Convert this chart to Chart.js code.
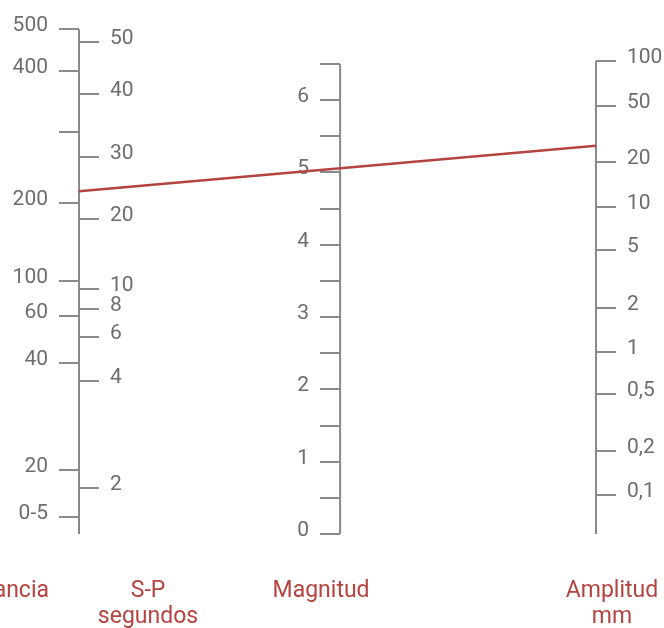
<!DOCTYPE html>
<html>
<head>
<meta charset="utf-8">
<script src="https://cdn.jsdelivr.net/npm/chart.js@4.4.1/dist/chart.umd.min.js"></script>
<style>
  body { margin: 0; background: #fff; }
  #wrap { width: 664px; height: 628px; }
</style>
</head>
<body>
<div id="wrap"><canvas id="nomograma" width="664" height="628"></canvas></div>
<script>
// columnas del nomograma (0 = distancia / S-P, 1 = amplitud)
var colDist = 0;
var colMag = 0.505;
var colAmp = 1;

// distancia (km) - posicion en unidades de magnitud
var distLabels = ['500', '400', '', '200', '100', '60', '40', '20', '0-5'];
var distPos    = [6.98, 6.41, 5.56, 4.58, 3.50, 3.02, 2.36, 0.88, 0.24];

// S-P (segundos)
var spLabels = ['50', '40', '30', '20', '10', '8', '6', '4', '2'];
var spPos    = [6.80, 6.09, 5.21, 4.35, 3.39, 3.11, 2.73, 2.11, 0.64];

// magnitud
var magPos    = [0, 0.5, 1, 1.5, 2, 2.5, 3, 3.5, 4, 4.5, 5, 5.5, 6, 6.5];
var magLabels = ['0', '', '1', '', '2', '', '3', '', '4', '', '5', '', '6', ''];

// amplitud (mm)
var ampLabels = ['100', '50', '20', '10', '5', '2', '1', '0,5', '0,2', '0,1'];
var ampPos    = [6.54, 5.92, 5.14, 4.52, 3.93, 3.13, 2.52, 1.93, 1.15, 0.54];

// ejemplo: recta que une distancia y amplitud
var ejemploX = [colDist, colAmp];
var ejemploY = [4.74, 5.37];

var titulos = [
  { lines: ['Distancia'], col: colDist, dx: -30, align: 'right' },
  { lines: ['S-P', 'segundos'], col: colDist, dx: 69, align: 'center' },
  { lines: ['Magnitud'], col: colMag, dx: -19, align: 'center' },
  { lines: ['Amplitud', 'mm'], col: colAmp, dx: 16, align: 'center' }
];

var gris = '#8a8a8a';
var grisTexto = '#6d6d6d';
var rojo = '#b5433f';

var ejeData = function(col, top) {
  return [{ x: col, y: top }, { x: col, y: 0 }];
};

var lineaEje = function(data) {
  return {
    data: data,
    borderColor: gris,
    borderWidth: 2,
    pointRadius: 0,
    clip: false,
    order: 2
  };
};

var escalas = {
  id: 'escalas',
  beforeDatasetsDraw: function(chart) {
    var ctx = chart.ctx;
    var xs = chart.scales.x;
    var ys = chart.scales.y;

    var dibujar = function(col, pos, labels, side) {
      var x0 = Math.round(xs.getPixelForValue(col));
      ctx.save();
      ctx.strokeStyle = gris;
      ctx.lineWidth = 2;
      ctx.fillStyle = grisTexto;
      ctx.font = '21px Roboto';
      ctx.textBaseline = 'alphabetic';
      ctx.textAlign = side < 0 ? 'right' : 'left';
      for (var i = 0; i < pos.length; i++) {
        var y = Math.round(ys.getPixelForValue(pos[i]));
        ctx.beginPath();
        ctx.moveTo(x0, y);
        ctx.lineTo(x0 + side * 20, y);
        ctx.stroke();
        if (labels[i]) {
          ctx.fillText(labels[i], x0 + side * 31, y + 2);
        }
      }
      ctx.restore();
    };

    dibujar(colDist, distPos, distLabels, -1);
    dibujar(colDist, spPos, spLabels, 1);
    dibujar(colMag, magPos, magLabels, -1);
    dibujar(colAmp, ampPos, ampLabels, 1);

    ctx.save();
    ctx.fillStyle = rojo;
    ctx.font = '23px Roboto';
    ctx.textBaseline = 'alphabetic';
    titulos.forEach(function(t) {
      var x = xs.getPixelForValue(t.col) + t.dx;
      ctx.textAlign = t.align;
      t.lines.forEach(function(txt, k) {
        ctx.fillText(txt, x, 597 + k * 26);
      });
    });
    ctx.restore();
  }
};

new Chart(document.getElementById('nomograma').getContext('2d'), {
  type: 'line',
  data: {
    datasets: [
      lineaEje(ejeData(colDist, distPos[0])),
      lineaEje(ejeData(colMag, magPos[magPos.length - 1])),
      lineaEje(ejeData(colAmp, ampPos[0])),
      {
        data: ejemploX.map(function(x, i) { return { x: x, y: ejemploY[i] }; }),
        borderColor: rojo,
        borderWidth: 2.5,
        pointRadius: 0,
        clip: false,
        order: 1
      }
    ]
  },
  options: {
    responsive: false,
    animation: false,
    layout: { padding: { left: 79, right: 68, top: 64, bottom: 94 } },
    scales: {
      x: { type: 'linear', min: 0, max: 1, display: false },
      y: { type: 'linear', min: 0, max: 6.5, display: false }
    },
    plugins: {
      legend: { display: false },
      tooltip: { enabled: false }
    }
  },
  plugins: [escalas]
});
</script>
</body>
</html>
